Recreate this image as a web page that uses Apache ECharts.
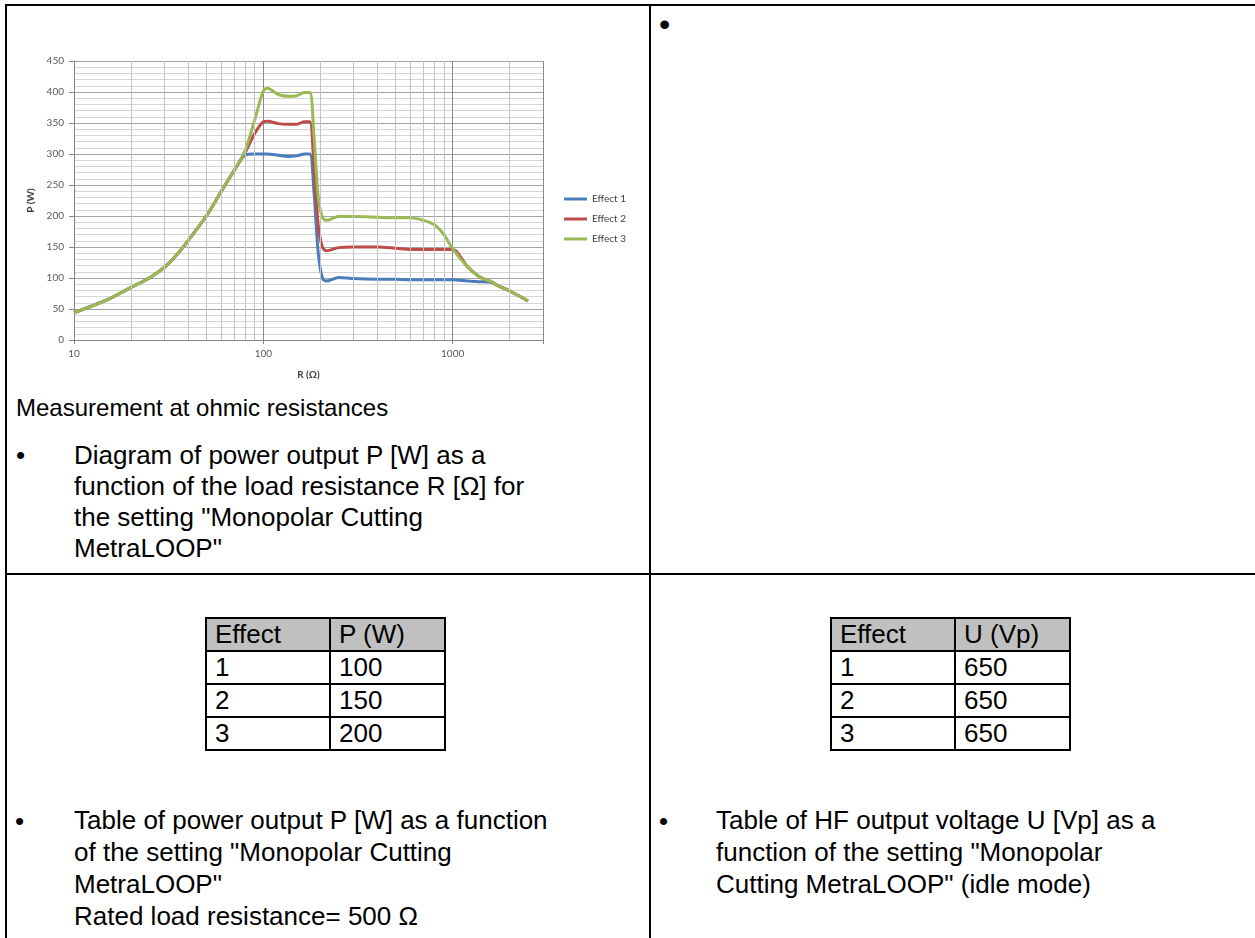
<!DOCTYPE html>
<html>
<head>
<meta charset="utf-8">
<script src="https://cdn.jsdelivr.net/npm/echarts@6/dist/echarts.min.js"></script>
<style>
  html, body { margin: 0; padding: 0; background: #fff; }
  body { width: 1255px; height: 938px; position: relative; overflow: hidden;
         font-family: "Liberation Sans", Arial, sans-serif; color: #000; }
  .ln { position: absolute; background: #000; }
  .txt { position: absolute; white-space: nowrap; }
  .bul { position: absolute; white-space: nowrap; }
  table.t { position: absolute; border-collapse: collapse; font-size: 26px; }
  table.t td { border: 2px solid #000; height: 31px; line-height: 31px; padding: 0 0 0 8px; vertical-align: top; }
  table.t tr.h td { background: #c0c0c0; }
</style>
</head>
<body>
<!-- document frame -->
<div class="ln" style="left:5px;top:4px;width:1250px;height:2px"></div>
<div class="ln" style="left:5px;top:4px;width:2px;height:934px"></div>
<div class="ln" style="left:649px;top:4px;width:2px;height:934px"></div>
<div class="ln" style="left:5px;top:573px;width:1250px;height:2px"></div>

<div id="chart" style="position:absolute;left:0;top:0;width:650px;height:392px"></div>

<div class="bul" style="left:659px;top:8px;font-size:32px;line-height:32px">•</div>

<div class="txt" style="left:16px;top:394px;font-size:24px;line-height:28px">Measurement at ohmic resistances</div>
<div class="bul" style="left:16px;top:440px;font-size:26px;line-height:31px">•</div>
<div class="txt" style="left:74px;top:440px;font-size:26px;line-height:31px">Diagram of power output P [W] as a<br>function of the load resistance R [Ω] for<br>the setting "Monopolar Cutting<br>MetraLOOP"</div>

<table class="t" id="tab1" style="left:205px;top:617px">
  <tbody></tbody>
</table>
<table class="t" id="tab2" style="left:830px;top:617px">
  <tbody></tbody>
</table>

<div class="bul" style="left:15px;top:805px;font-size:26px;line-height:32px">•</div>
<div class="txt" style="left:74px;top:804px;font-size:26px;line-height:32px">Table of power output P [W] as a function<br>of the setting "Monopolar Cutting<br>MetraLOOP"<br>Rated load resistance= 500 Ω</div>

<div class="bul" style="left:659px;top:805px;font-size:26px;line-height:32px">•</div>
<div class="txt" style="left:716px;top:804px;font-size:26px;line-height:32px">Table of HF output voltage U [Vp] as a<br>function of the setting "Monopolar<br>Cutting MetraLOOP" (idle mode)</div>

<script>
// ---------- data ----------
const R = [10, 15, 20, 25, 30, 35, 40, 50, 60, 70, 80, 90, 100, 105, 120, 135, 150, 165, 176, 185, 195, 205, 215, 250, 300, 400, 500, 600, 700, 800, 900, 1000, 1200, 1400, 1600, 1700, 2000, 2500];
const effect1 = [44, 65, 85, 100, 117, 138, 160, 200, 240, 273, 298, 300, 300, 300, 298, 296, 297, 300, 300, 240, 140, 100, 95, 101, 99, 98, 98, 97, 97, 97, 97, 97, 95, 94, 93, 89, 79, 63];
const effect2 = [44, 65, 85, 100, 117, 138, 160, 200, 240, 273, 302, 333, 352, 353, 349, 348, 348, 352, 352, 280, 185, 150, 144, 149, 150, 150, 148, 146, 146, 146, 146, 146, 118, 101, 94, 89, 79, 63];
const effect3 = [44, 65, 85, 100, 117, 138, 160, 200, 240, 273, 305, 355, 402, 406, 396, 393, 394, 399, 399, 330, 230, 198, 193, 199, 199, 198, 197, 197, 193, 186, 170, 147, 118, 101, 94, 89, 79, 63];
const seriesNames = ['Effect 1', 'Effect 2', 'Effect 3'];
const xTickLabels = ['10', '100', '1000'];
const minorR = [20, 30, 40, 50, 60, 70, 80, 90, 200, 300, 400, 500, 600, 700, 800, 900, 2000];

const table1Head = ['Effect', 'P (W)'];
const table1Effect = ['1', '2', '3'];
const table1P = ['100', '150', '200'];
const table2Head = ['Effect', 'U (Vp)'];
const table2Effect = ['1', '2', '3'];
const table2U = ['650', '650', '650'];

// ---------- tables ----------
function fillTable(id, head, c1, c2) {
  const tb = document.querySelector('#' + id + ' tbody');
  let html = '<tr class="h"><td style="width:114px">' + head[0] + '</td><td style="width:105px">' + head[1] + '</td></tr>';
  for (let i = 0; i < c1.length; i++) html += '<tr><td>' + c1[i] + '</td><td>' + c2[i] + '</td></tr>';
  tb.innerHTML = html;
}
fillTable('tab1', table1Head, table1Effect, table1P);
fillTable('tab2', table2Head, table2Effect, table2U);

// ---------- chart ----------
const colors = ['#4A7EBB', '#BE4B48', '#98B954'];
const chart = echarts.init(document.getElementById('chart'), null, { renderer: 'canvas' });
const mk = (arr) => R.map((r, i) => [r, arr[i]]);
const lineSeries = [effect1, effect2, effect3].map((arr, i) => ({
  name: seriesNames[i], type: 'line', data: mk(arr), smooth: 0.3,
  showSymbol: false, symbol: 'none', z: 3,
  lineStyle: { color: colors[i], width: 3 }, itemStyle: { color: colors[i] },
  emphasis: { disabled: true }
}));
chart.setOption({
  animation: false,
  textStyle: { fontFamily: 'Lato, "Open Sans", sans-serif' },
  grid: { left: 74, top: 61, width: 469, height: 279, containLabel: false, outerBoundsMode: 'none' },
  legend: {
    data: seriesNames, orient: 'vertical', left: 564, top: 193, padding: 0,
    icon: 'rect', itemWidth: 23, itemHeight: 3, itemGap: 8,
    textStyle: { fontSize: 10, lineHeight: 12, color: '#404040', fontFamily: 'Lato, sans-serif' }
  },
  xAxis: {
    type: 'log', logBase: 10, min: 10, max: 3000,
    name: 'R (Ω)', nameLocation: 'middle', nameGap: 30,
    nameTextStyle: { fontSize: 10, fontWeight: 'bold', color: '#404040' },
    axisLine: { show: true, lineStyle: { color: '#868686', width: 1 } },
    axisTick: { show: true, length: 4, lineStyle: { color: '#868686' } },
    axisLabel: { fontSize: 10, color: '#595959', margin: 9,
      formatter: (v) => { const s = String(Math.round(v)); return xTickLabels.includes(s) ? s : ''; } },
    splitLine: { show: true, lineStyle: { color: '#8a8a8a', width: 1 } }
  },
  yAxis: {
    type: 'value', min: 0, max: 450, interval: 50,
    name: 'P (W)', nameLocation: 'middle', nameGap: 36, nameRotate: 90,
    nameTextStyle: { fontSize: 10, fontWeight: 'bold', color: '#404040' },
    axisLine: { show: true, lineStyle: { color: '#868686', width: 1 } },
    axisTick: { show: true, length: 5, lineStyle: { color: '#868686' } },
    axisLabel: { fontSize: 10, color: '#595959', margin: 10 },
    splitLine: { show: true, lineStyle: { color: '#a3a3a3', width: 1 } },
    minorTick: { show: false, splitNumber: 5 },
    minorSplitLine: { show: true, lineStyle: { color: '#d6d6d6', width: 1 } }
  },
  series: [
    {
      name: 'minor-grid', type: 'line', data: [], silent: true, z: 1,
      markLine: {
        silent: true, symbol: ['none', 'none'], animation: false,
        label: { show: false },
        lineStyle: { color: '#c4c4c4', width: 1, type: 'solid' },
        emphasis: { disabled: true },
        data: minorR.map(v => ({ xAxis: v }))
      }
    },
    ...lineSeries
  ]
});
</script>
</body>
</html>
